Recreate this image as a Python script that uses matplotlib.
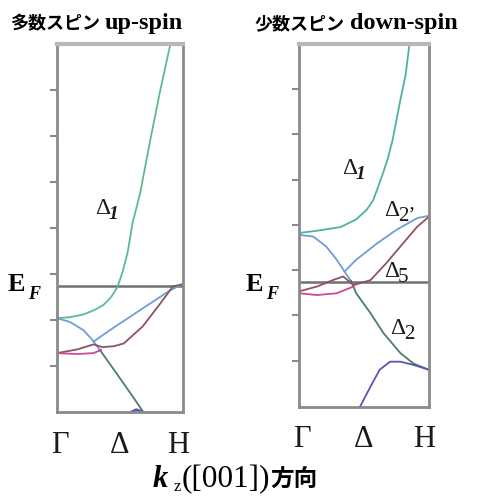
import matplotlib
matplotlib.use("Agg")
import matplotlib.pyplot as plt

# ---------------- data (k along Γ->H, 0..1; energy in tick units, EF = 0) -------------
tick_labels = ["Γ", "Δ", "H"]
tick_k = [0.02, 0.5, 0.96]
e_ticks = [-1.74, -0.74, 0.26, 1.26, 2.26, 3.26, 4.26]

# majority (up-spin)
up_d1_k = [0.0, 0.10, 0.21, 0.30, 0.37, 0.43, 0.48, 0.52, 0.56, 0.60, 0.66, 0.74, 0.82, 0.90]
up_d1_e = [-0.70, -0.68, -0.62, -0.52, -0.41, -0.24, -0.02, 0.30, 0.72, 1.37, 2.02, 3.17, 4.26, 5.26]
up_blue_dn_k = [0.0, 0.10, 0.21, 0.28, 0.34]
up_blue_dn_e = [-0.70, -0.78, -0.96, -1.17, -1.39]
up_d2_k = [0.34, 0.47, 0.60, 0.68]
up_d2_e = [-1.39, -1.89, -2.40, -2.72]
up_blue_up_k = [0.29, 0.42, 0.58, 0.74, 0.90, 1.0]
up_blue_up_e = [-1.21, -0.96, -0.67, -0.38, -0.09, 0.04]
up_brown_k = [0.0, 0.16, 0.29, 0.36, 0.45, 0.53, 0.68, 0.82, 0.92, 1.0]
up_brown_e = [-1.46, -1.38, -1.27, -1.33, -1.31, -1.25, -0.88, -0.38, -0.01, 0.04]
up_pink_k = [0.0, 0.16, 0.29, 0.35]
up_pink_e = [-1.46, -1.48, -1.46, -1.39]
up_purple_k = [0.59, 0.63, 0.67]
up_purple_e = [-2.74, -2.69, -2.73]

# minority (down-spin)
dn_d1_k = [0.0, 0.14, 0.32, 0.44, 0.52, 0.57, 0.60, 0.64, 0.68, 0.72, 0.78, 0.82, 0.85]
dn_d1_e = [1.08, 1.13, 1.21, 1.38, 1.59, 1.80, 2.03, 2.35, 2.69, 3.13, 4.02, 4.57, 5.25]
dn_blue_dn_k = [0.0, 0.11, 0.21, 0.29, 0.35, 0.40]
dn_blue_dn_e = [1.04, 1.00, 0.78, 0.49, 0.23, 0.02]
dn_d2_k = [0.40, 0.44, 0.55, 0.65, 0.78, 0.88, 1.0]
dn_d2_e = [0.02, -0.25, -0.69, -1.13, -1.57, -1.80, -1.94]
dn_blue_up_k = [0.35, 0.44, 0.60, 0.75, 0.91, 1.0]
dn_blue_up_e = [0.23, 0.49, 0.85, 1.15, 1.41, 1.46]
dn_brown_k = [0.0, 0.14, 0.26, 0.34, 0.42, 0.55, 0.67, 0.80, 0.91, 1.0]
dn_brown_e = [-0.21, -0.10, 0.04, 0.12, -0.07, 0.04, 0.41, 0.85, 1.22, 1.44]
dn_pink_k = [0.0, 0.14, 0.29, 0.42]
dn_pink_e = [-0.25, -0.29, -0.25, -0.10]
dn_purple_k = [0.47, 0.55, 0.62, 0.70, 0.78, 0.88, 1.0]
dn_purple_e = [-2.75, -2.31, -1.94, -1.76, -1.76, -1.83, -1.94]

# ---------------- figure ---------------------------------------------------------------
W, H = 480, 498
fig = plt.figure(figsize=(W / 100, H / 100), dpi=100)

def px_axes(x0, y0, x1, y1):
    return fig.add_axes([x0 / W, 1 - y1 / H, (x1 - x0) / W, (y1 - y0) / H])

axL = px_axes(57, 44, 183, 412)
axR = px_axes(299, 44, 429, 407)

C_GREEN = "#5dbb8c"
C_TEAL = "#4cb3a2"
C_BLUE = "#6c9fd8"
C_BROWN = "#8a5560"
C_PINK = "#d0479c"
C_DGREEN = "#4d7f62"
C_PURPLE = "#5a55b5"
LW = 1.3

serif = ["Liberation Serif", "DejaVu Serif"]
cjk = ["Noto Sans CJK JP"]

def style(ax, ylo, yhi):
    ax.set_xlim(0, 1)
    ax.set_ylim(ylo, yhi)
    ax.set_xticks([])
    ax.set_yticks(e_ticks)
    ax.set_yticklabels([])
    ax.tick_params(axis="y", direction="out", length=5, width=1.5, color="#8a8a8a")
    for s in ax.spines.values():
        s.set_color("#8a8a8a")
        s.set_linewidth(2.0)
    ax.spines["top"].set_color("#b8b8b8")
    ax.spines["top"].set_linewidth(3.0)
    ax.axhline(0, color="#707070", lw=1.8, zorder=1)
    for k, lab in zip(tick_k, tick_labels):
        ax.text(k, -0.09, lab, transform=ax.transAxes, ha="center", va="center",
                family=serif, fontsize=22, color="#1a1a1a")

style(axL, -2.74, 5.26)
style(axR, -2.76, 5.25)

axL.plot(up_d1_k, up_d1_e, color=C_GREEN, lw=LW)
axL.plot(up_blue_dn_k, up_blue_dn_e, color=C_BLUE, lw=LW)
axL.plot(up_d2_k, up_d2_e, color=C_DGREEN, lw=LW)
axL.plot(up_blue_up_k, up_blue_up_e, color=C_BLUE, lw=LW)
axL.plot(up_brown_k, up_brown_e, color=C_BROWN, lw=LW)
axL.plot(up_pink_k, up_pink_e, color=C_PINK, lw=LW)
axL.plot(up_purple_k, up_purple_e, color=C_PURPLE, lw=2.0)

axR.plot(dn_d1_k, dn_d1_e, color=C_TEAL, lw=LW)
axR.plot(dn_blue_dn_k, dn_blue_dn_e, color=C_BLUE, lw=LW)
axR.plot(dn_d2_k, dn_d2_e, color=C_DGREEN, lw=LW)
axR.plot(dn_blue_up_k, dn_blue_up_e, color=C_BLUE, lw=LW)
axR.plot(dn_brown_k, dn_brown_e, color=C_BROWN, lw=LW)
axR.plot(dn_pink_k, dn_pink_e, color=C_PINK, lw=LW)
axR.plot(dn_purple_k, dn_purple_e, color=C_PURPLE, lw=LW)

def ftext(x, y, s, **kw):
    fig.text(x / W, 1 - y / H, s, **kw)

# band labels
def delta(x, y, sub, sub_italic=True, sub_bold=True):
    ftext(x, y, "Δ", family=serif, fontsize=17, ha="left", va="baseline", color="#1a1a1a")
    ftext(x + 14, y + 5, sub, family=serif, fontsize=14 if sub_bold else 15,
          style="italic" if sub_italic else "normal",
          weight="bold" if sub_bold else "normal",
          ha="left", va="baseline", color="#1a1a1a")

delta(95, 214, "1")
delta(342, 174, "1")
delta(384, 216, "2\u2019", sub_italic=False, sub_bold=False)
delta(384, 277, "5", sub_italic=False, sub_bold=False)
delta(390, 334, "2", sub_italic=False, sub_bold=False)

# E_F
for x0 in (8, 246):
    ftext(x0, 291, "E", family=serif, fontsize=19, weight="bold", ha="left", va="baseline")
    ftext(x0 + 20, 299, "F", family=serif, fontsize=13, weight="bold", style="italic",
          ha="left", va="baseline")

# titles
ftext(10, 29, "多数スピン", family=cjk, fontsize=13, weight="bold", ha="left", va="baseline")
ftext(105, 29, "up-spin", family=serif, fontsize=17.5, weight="bold", ha="left", va="baseline")
ftext(255, 29, "少数スピン", family=cjk, fontsize=13, weight="bold", ha="left", va="baseline")
ftext(350, 29, "down-spin", family=serif, fontsize=17.5, weight="bold", ha="left", va="baseline")

# axis label  k_z([001])方向
ftext(153, 487, "k", family=serif, fontsize=22, weight="bold", style="italic",
      ha="left", va="baseline")
ftext(174, 491, "z", family=serif, fontsize=12, ha="left", va="baseline")
ftext(182, 487, "([001])", family=serif, fontsize=22.5, ha="left", va="baseline")
ftext(270, 487, "方向", family=cjk, fontsize=17, weight="bold", ha="left", va="baseline")

fig.savefig("out.png", dpi=100)
